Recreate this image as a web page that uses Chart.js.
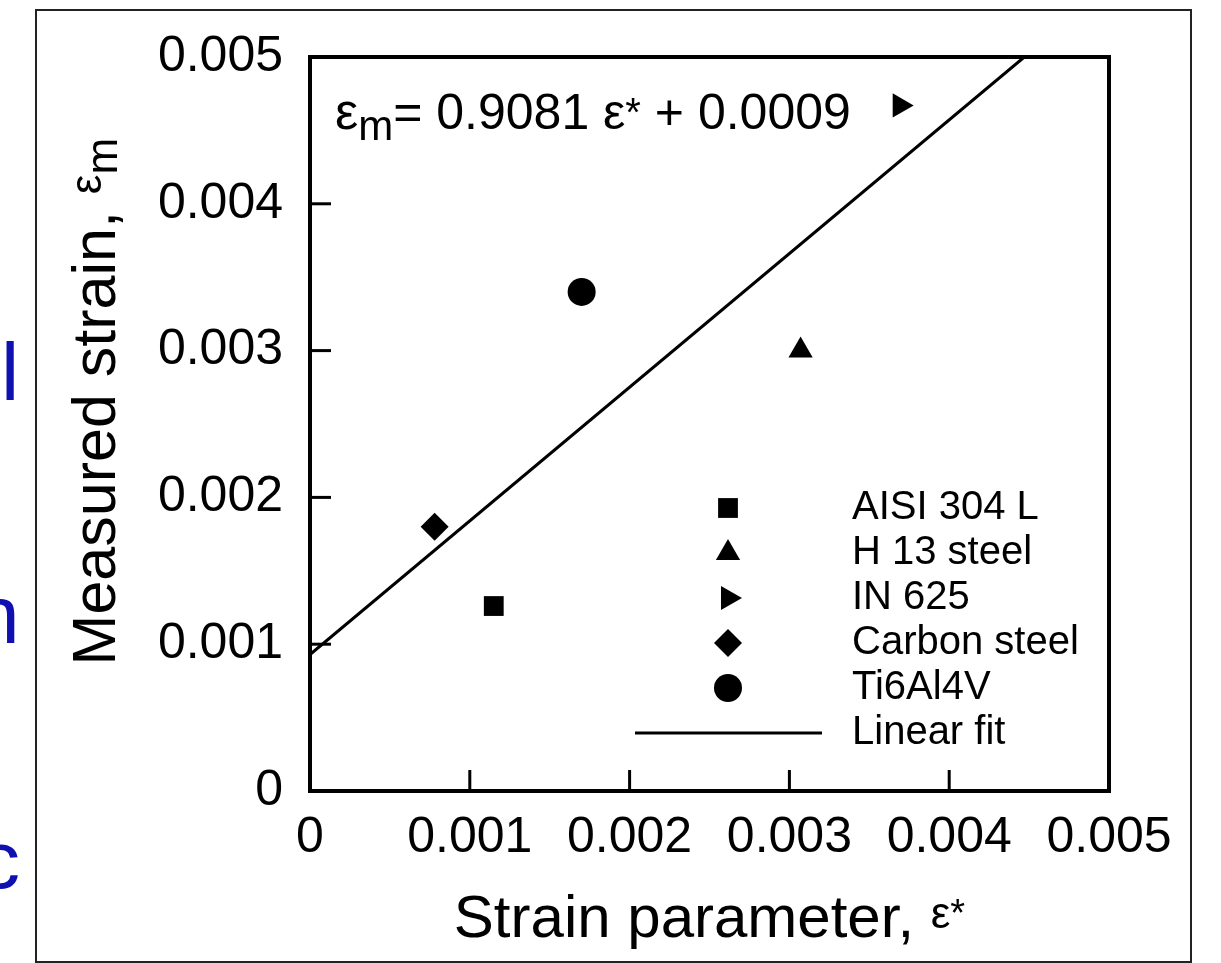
<!DOCTYPE html>
<html>
<head>
<meta charset="utf-8">
<script src="https://cdn.jsdelivr.net/npm/chart.js@4/dist/chart.umd.min.js"></script>
<style>
  body { margin: 0; background: #fff; }
  #wrap { position: relative; width: 1221px; height: 963px; overflow: hidden; }
  #frame { position: absolute; left: 35px; top: 9px; width: 1157px; height: 954px; box-sizing: border-box; border: 2px solid #222; }
  .cut { position: absolute; color: #1010b0; font-family: 'Liberation Sans', Arial, sans-serif; font-size: 82px; line-height: 82px; }
  canvas { position: absolute; left: 0; top: 0; }
</style>
</head>
<body>
<div id="wrap">
  <span class="cut" style="left:1px; top:331px">l</span>
  <span class="cut" style="left:-26px; top:574px">n</span>
  <span class="cut" style="left:-21px; top:819px">c</span>
  <div id="frame"></div>
  <canvas id="myChart" width="1221" height="963"></canvas>
</div>
<script>
// data
const materials = ["AISI 304 L", "H 13 steel", "IN 625", "Carbon steel", "Ti6Al4V"];
const strainParam = [0.00115, 0.00307, 0.00369, 0.00078, 0.00170];
const measuredStrain = [0.00126, 0.00300, 0.00467, 0.00180, 0.00340];
const fitLabel = "Linear fit";
const fitX = [0, 0.00447];
const fitY = [0.00093, 0.005];
const tickValues = [0, 0.001, 0.002, 0.003, 0.004, 0.005];

const markerStyles = [
  { pointStyle: "rect", rotation: 0 },
  { pointStyle: "triangle", rotation: 0 },
  { pointStyle: "triangle", rotation: 90 },
  { pointStyle: "rectRot", rotation: 0 },
  { pointStyle: "circle", rotation: 0 }
];

const FONT = "'Liberation Sans', Arial, sans-serif";

let datasets = materials.map((name, i) => ({
  label: name,
  data: [{ x: strainParam[i], y: measuredStrain[i] }],
  pointStyle: markerStyles[i].pointStyle,
  rotation: markerStyles[i].rotation,
  pointRadius: 14,
  pointBorderWidth: 0,
  backgroundColor: "#000",
  borderColor: "#000",
  showLine: false
}));
datasets.push({
  label: fitLabel,
  type: "line",
  data: fitX.map((x, i) => ({ x: x, y: fitY[i] })),
  borderColor: "#000",
  borderWidth: 3,
  pointRadius: 0,
  fill: false
});

function drawParts(ctx, parts, x, y) {
  // draws text pieces one after another on a common baseline
  parts.forEach(p => {
    ctx.font = p.size + "px " + FONT;
    ctx.fillText(p.t, x, y + (p.dy || 0));
    x += ctx.measureText(p.t).width;
  });
}
function partsWidth(ctx, parts) {
  let w = 0;
  parts.forEach(p => { ctx.font = p.size + "px " + FONT; w += ctx.measureText(p.t).width; });
  return w;
}

const decor = {
  id: "decor",
  afterDraw(chart) {
    const ctx = chart.ctx;
    const a = chart.chartArea;
    const xs = chart.scales.x, ys = chart.scales.y;
    ctx.save();
    ctx.strokeStyle = "#000";
    ctx.fillStyle = "#000";

    // plot frame
    ctx.lineWidth = 4;
    ctx.strokeRect(a.left, a.top, a.right - a.left, a.bottom - a.top);

    // inward ticks
    ctx.lineWidth = 3;
    xs.ticks.forEach(t => {
      if (t.value <= xs.min || t.value >= xs.max) return;
      const px = xs.getPixelForValue(t.value);
      ctx.beginPath(); ctx.moveTo(px, a.bottom); ctx.lineTo(px, a.bottom - 21); ctx.stroke();
    });
    ys.ticks.forEach(t => {
      if (t.value <= ys.min || t.value >= ys.max) return;
      const py = ys.getPixelForValue(t.value);
      ctx.beginPath(); ctx.moveTo(a.left, py); ctx.lineTo(a.left + 21, py); ctx.stroke();
    });

    ctx.textBaseline = "alphabetic";
    ctx.textAlign = "left";

    // fit equation
    drawParts(ctx, [
      { t: "ε", size: 52 },
      { t: "m", size: 42, dy: 11 },
      { t: "= 0.9081 ε", size: 50 },
      { t: "*", size: 40, dy: -3 },
      { t: " + 0.0009", size: 50 }
    ], a.left + 25, a.top + 72);

    // x title
    const xt = [
      { t: "Strain parameter, ", size: 60 },
      { t: "ε", size: 44, dy: -9 },
      { t: "*", size: 38, dy: -11 }
    ];
    drawParts(ctx, xt, (a.left + a.right) / 2 - partsWidth(ctx, xt) / 2, a.bottom + 146);

    // y title (rotated)
    const yt = [
      { t: "Measured strain, ", size: 61 },
      { t: "ε", size: 44, dy: -14 }
    ];
    const ytw = partsWidth(ctx, yt);
    ctx.save();
    ctx.translate(a.left - 195, (a.top + a.bottom) / 2 + ytw / 2 - 4);
    ctx.rotate(-Math.PI / 2);
    drawParts(ctx, yt.concat([{ t: "m", size: 44, dy: 2 }]), 0, 0);
    ctx.restore();

    // legend
    const symX = 728, lineX0 = 635, lineX1 = 822, textX = 852;
    let rowY = 508;
    ctx.textBaseline = "middle";
    ctx.font = "40px " + FONT;
    chart.data.datasets.forEach(ds => {
      if (ds.type === "line") {
        ctx.lineWidth = ds.borderWidth;
        ctx.beginPath(); ctx.moveTo(lineX0, rowY); ctx.lineTo(lineX1, rowY); ctx.stroke();
      } else {
        Chart.helpers.drawPoint(ctx, {
          pointStyle: ds.pointStyle, rotation: ds.rotation, radius: ds.pointRadius, borderWidth: 0
        }, symX, rowY);
      }
      ctx.fillText(ds.label, textX, rowY);
      rowY += 45;
    });
    ctx.restore();
  }
};

const tickFmt = v => (v === 0 ? "0" : Number(v).toFixed(3));

const ctx = document.getElementById("myChart").getContext("2d");
const myChart = new Chart(ctx, {
  type: "scatter",
  data: { datasets: datasets },
  options: {
    responsive: false,
    animation: false,
    events: [],
    layout: { padding: { top: 50, right: 112, bottom: 0, left: 0 } },
    plugins: { legend: { display: false }, tooltip: { enabled: false } },
    scales: {
      x: {
        type: "linear", min: 0, max: 0.005,
        afterBuildTicks: s => { s.ticks = tickValues.map(v => ({ value: v })); },
        afterFit: s => { s.height = 172; },
        grid: { display: false, drawTicks: false },
        border: { display: false },
        ticks: { padding: 17, color: "#000", font: { family: FONT, size: 50 }, maxRotation: 0, autoSkip: false, callback: tickFmt }
      },
      y: {
        type: "linear", min: 0, max: 0.005,
        afterBuildTicks: s => { s.ticks = tickValues.map(v => ({ value: v })); },
        afterFit: s => { s.width = 310; },
        grid: { display: false, drawTicks: false },
        border: { display: false },
        ticks: { padding: 27, color: "#000", font: { family: FONT, size: 50 }, autoSkip: false, callback: tickFmt }
      }
    }
  },
  plugins: [decor]
});
</script>
</body>
</html>
